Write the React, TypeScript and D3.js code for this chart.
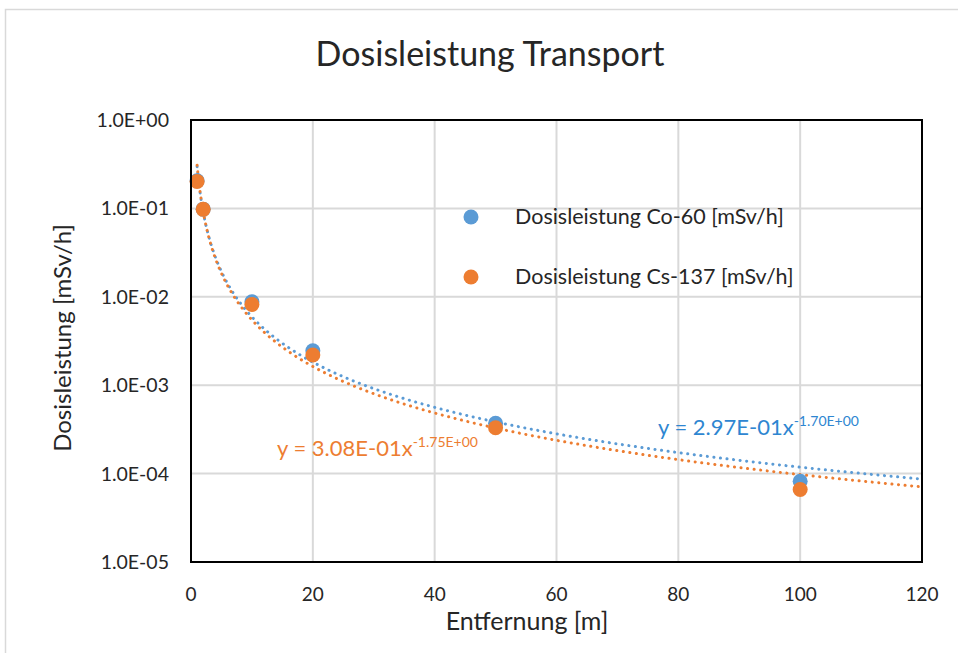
import React, { useEffect, useRef } from 'react';
import * as d3 from 'd3';

const distances = [1, 2, 10, 20, 50, 100];
const co60 = [0.205, 0.098, 0.0088, 0.00245, 0.00037, 0.000082];
const cs137 = [0.202, 0.0975, 0.0082, 0.0022, 0.00033, 0.000066];
const xTicks = [0, 20, 40, 60, 80, 100, 120];
const yTicks = [1, 0.1, 0.01, 0.001, 0.0001, 0.00001];
const yTickLabels = ['1.0E+00', '1.0E-01', '1.0E-02', '1.0E-03', '1.0E-04', '1.0E-05'];
// trendline coefficients as printed in the chart: y = a * x^b
const fitCo = { a: 0.297, b: -1.7, label: '2.97E-01x', exp: '-1.70E+00' };
const fitCs = { a: 0.308, b: -1.75, label: '3.08E-01x', exp: '-1.75E+00' };

const BLUE = '#5B9BD5';
const ORANGE = '#ED7D31';
const FONT = 'Lato, "Open Sans", sans-serif';

const App = () => {
  const ref = useRef<SVGSVGElement | null>(null);

  useEffect(() => {
    const svg = d3.select(ref.current);
    svg.selectAll('*').remove();

    const left = 191, right = 922, top = 120, bottom = 562;
    const x = d3.scaleLinear().domain([0, 120]).range([left, right]);
    const y = d3.scaleLog().domain([0.00001, 1]).range([bottom, top]);

    // outer chart border
    svg.append('rect')
      .attr('x', 5.5).attr('y', 9.5)
      .attr('width', 1000).attr('height', 700)
      .attr('fill', 'white').attr('stroke', '#D9D9D9').attr('stroke-width', 1.5);

    // grid
    svg.append('g').selectAll('line')
      .data(xTicks.slice(1, -1))
      .join('line')
      .attr('x1', d => x(d)).attr('x2', d => x(d))
      .attr('y1', top).attr('y2', bottom)
      .attr('stroke', '#D9D9D9').attr('stroke-width', 2);
    svg.append('g').selectAll('line')
      .data(yTicks.slice(1, -1))
      .join('line')
      .attr('x1', left).attr('x2', right)
      .attr('y1', d => y(d)).attr('y2', d => y(d))
      .attr('stroke', '#D9D9D9').attr('stroke-width', 2);

    // trendlines
    const xs = d3.range(1, 120.01, 0.25);
    const line = d3.line<number[]>().x(d => x(d[0])).y(d => y(d[1]));
    [fitCo, fitCs].forEach((f, i) => {
      svg.append('path')
        .attr('d', line(xs.map(v => [v, f.a * Math.pow(v, f.b)])))
        .attr('fill', 'none')
        .attr('stroke', i === 0 ? BLUE : ORANGE)
        .attr('stroke-width', 3)
        .attr('stroke-linecap', 'round')
        .attr('stroke-dasharray', '0.1 6.5');
    });

    // points
    [[co60, BLUE], [cs137, ORANGE]].forEach(([vals, col]) => {
      svg.append('g').selectAll('circle')
        .data(vals as number[])
        .join('circle')
        .attr('cx', (_, i) => x(distances[i]))
        .attr('cy', d => y(d))
        .attr('r', 7.5)
        .attr('fill', col as string);
    });

    // plot border
    svg.append('rect')
      .attr('x', left).attr('y', top)
      .attr('width', right - left).attr('height', bottom - top)
      .attr('fill', 'none').attr('stroke', '#000').attr('stroke-width', 2);

    // tick labels
    svg.append('g').selectAll('text')
      .data(xTicks)
      .join('text')
      .attr('x', d => x(d)).attr('y', 601)
      .attr('text-anchor', 'middle')
      .attr('font-size', 19).attr('font-family', FONT).attr('fill', '#262626')
      .text(d => d);
    svg.append('g').selectAll('text')
      .data(yTicks)
      .join('text')
      .attr('x', 169).attr('y', d => y(d) + 7)
      .attr('text-anchor', 'end')
      .attr('font-size', 19.5).attr('font-family', FONT).attr('fill', '#262626')
      .text((_, i) => yTickLabels[i]);

    // titles
    svg.append('text')
      .attr('x', 490).attr('y', 66)
      .attr('text-anchor', 'middle')
      .attr('font-size', 34).attr('font-family', FONT).attr('fill', '#262626')
      .text('Dosisleistung Transport');
    svg.append('text')
      .attr('x', 527).attr('y', 630)
      .attr('text-anchor', 'middle')
      .attr('font-size', 25).attr('font-family', FONT).attr('fill', '#262626')
      .text('Entfernung [m]');
    svg.append('text')
      .attr('transform', 'translate(71,338) rotate(-90)')
      .attr('text-anchor', 'middle')
      .attr('font-size', 24).attr('font-family', FONT).attr('fill', '#262626')
      .text('Dosisleistung [mSv/h]');

    // legend
    const legend = [['Dosisleistung Co-60 [mSv/h]', BLUE], ['Dosisleistung Cs-137 [mSv/h]', ORANGE]];
    legend.forEach(([label, col], i) => {
      const ly = 217 + i * 60;
      svg.append('circle').attr('cx', 471).attr('cy', ly).attr('r', 7.5).attr('fill', col);
      svg.append('text')
        .attr('x', 515).attr('y', ly + 7)
        .attr('font-size', 21.5).attr('font-family', FONT).attr('fill', '#262626')
        .text(label);
    });

    // trendline equations
    const eq = (f: typeof fitCo, tx: number, ty: number, col: string) => {
      const t = svg.append('text')
        .attr('x', tx).attr('y', ty)
        .attr('font-size', 22).attr('font-family', FONT).attr('fill', col);
      t.append('tspan').text(`y = ${f.label}`);
      t.append('tspan').attr('dy', -9).attr('font-size', 14).text(f.exp);
    };
    eq(fitCo, 658, 435, '#2E86D1');
    eq(fitCs, 277, 456, ORANGE);
  }, []);

  return (
    <svg ref={ref} width={958} height={653} style={{ position: 'absolute', left: 0, top: 0 }} />
  );
};

export default App;
